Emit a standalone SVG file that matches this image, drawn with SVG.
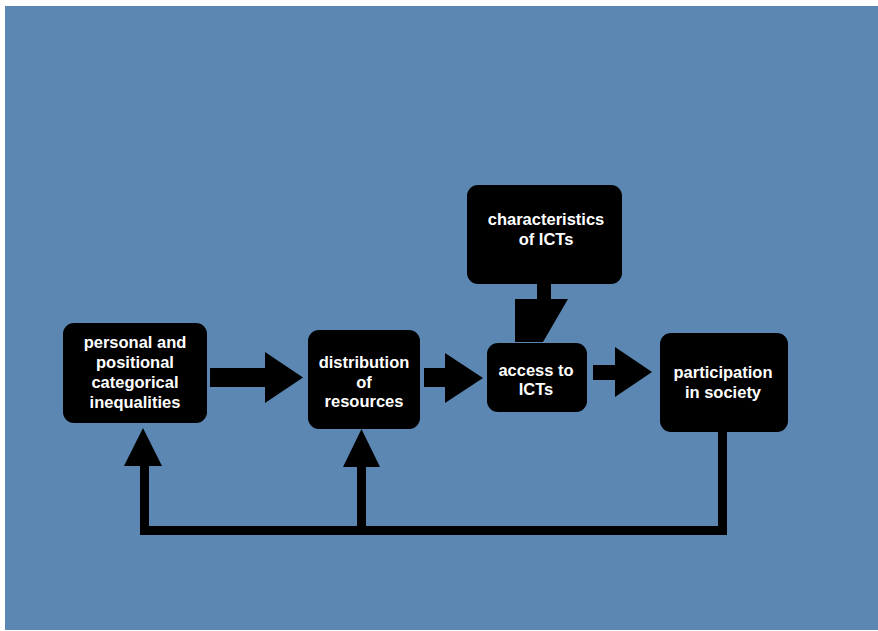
<svg xmlns="http://www.w3.org/2000/svg" width="878" height="631" viewBox="0 0 878 631">
<style>
.box{fill:#000;}
.lbl{fill:#fff;font-family:"Liberation Sans",Arial,sans-serif;font-weight:bold;font-size:16.5px;text-anchor:middle;}
.conn{fill:#000;}
</style>
<rect x="0" y="0" width="878" height="631" fill="#fff"/>
<rect x="5" y="6" width="873" height="624" fill="#5b87b2"/>
<g id="connectors">
<path class="conn" d="M210,368 H265 V352 L303,377.5 L265,403 V387 H210 Z"/>
<path class="conn" d="M424,368 H445 V353 L483,378 L445,403 V387 H424 Z"/>
<path class="conn" d="M593,365 H615 V347 L652,372 L615,397 V380 H593 Z"/>
<path class="conn" d="M537,283 H551 V299 H568 L543,342 H515 V299 H537 Z"/>
<rect class="conn" x="718" y="428" width="9" height="107"/>
<rect class="conn" x="140" y="526" width="587" height="9"/>
<path class="conn" d="M140,535 V466 H124 L143,428 L162,466 H149 V535 Z"/>
<path class="conn" d="M357,526 V467 H343 L361.5,429 L380,467 H366 V526 Z"/>
</g>
<g id="node-personal">
<rect class="box" x="63" y="323" width="144" height="100" rx="11"/>
<text class="lbl" x="135" y="348">personal and</text>
<text class="lbl" x="135" y="368">positional</text>
<text class="lbl" x="135" y="388">categorical</text>
<text class="lbl" x="135" y="408">inequalities</text>
</g>
<g id="node-distribution">
<rect class="box" x="308" y="330" width="112" height="99" rx="11"/>
<text class="lbl" x="364" y="368">distribution</text>
<text class="lbl" x="364" y="388">of</text>
<text class="lbl" x="364" y="407">resources</text>
</g>
<g id="node-characteristics">
<rect class="box" x="467" y="185" width="155" height="99" rx="11"/>
<text class="lbl" x="546" y="225">characteristics</text>
<text class="lbl" x="546" y="245">of ICTs</text>
</g>
<g id="node-access">
<rect class="box" x="487" y="343" width="100" height="69" rx="11"/>
<text class="lbl" x="536" y="376">access to</text>
<text class="lbl" x="536" y="395">ICTs</text>
</g>
<g id="node-participation">
<rect class="box" x="660" y="333" width="128" height="99" rx="11"/>
<text class="lbl" x="723" y="378">participation</text>
<text class="lbl" x="723" y="398">in society</text>
</g>
</svg>
